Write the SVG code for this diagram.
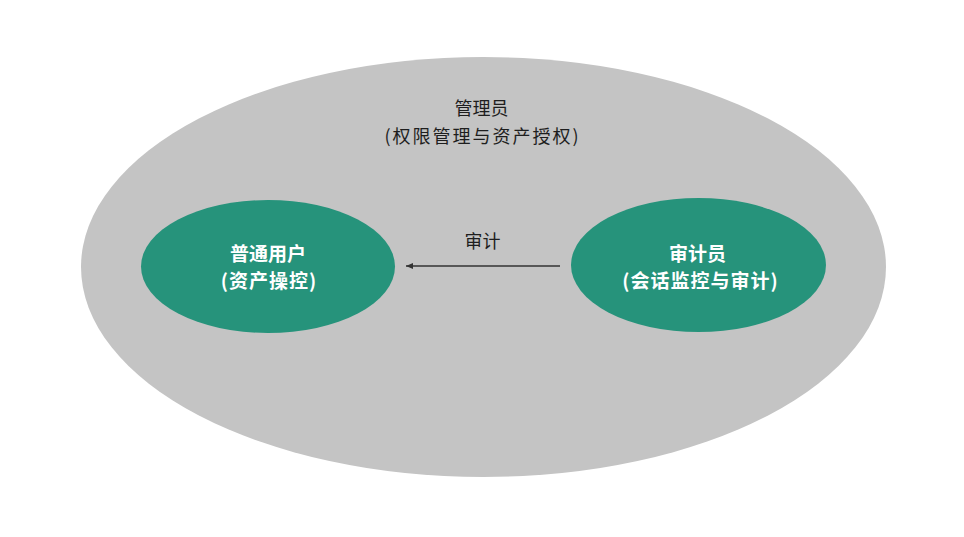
<svg xmlns="http://www.w3.org/2000/svg" width="964" height="537" viewBox="0 0 964 537">
<defs>
<style>
text{font-family:"Noto Sans CJK SC","Noto Sans",sans-serif;font-size:18px;text-anchor:middle}
.dark{fill:#1e1e1e}
.white{fill:#ffffff;font-weight:bold;font-size:19px}
.role{fill:#26937b}
</style>
<marker id="ah" markerWidth="8" markerHeight="8" refX="7" refY="4" orient="auto" markerUnits="userSpaceOnUse">
<path d="M0,1 L7,4 L0,7 Z" fill="#333"/>
</marker>
</defs>
<rect width="964" height="537" fill="#ffffff"/>
<g id="admin">
<ellipse cx="483.5" cy="267" rx="402.5" ry="210" fill="#c4c4c4"/>
<text class="dark" x="481.5" y="115">管理员</text>
<text class="dark" x="482.5" y="143" letter-spacing="2">(权限管理与资产授权)</text>
</g>
<g id="connectors">
<line x1="560" y1="266" x2="406" y2="266" stroke="#333" stroke-width="1.5" marker-end="url(#ah)"/>
<text class="dark" x="482.5" y="248">审计</text>
</g>
<g id="user">
<ellipse cx="268" cy="266.5" rx="127" ry="66.5" class="role"/>
<text class="white" x="268" y="261">普通用户</text>
<text class="white" x="269" y="288" letter-spacing="1">(资产操控)</text>
</g>
<g id="auditor">
<ellipse cx="698.5" cy="265" rx="127.5" ry="67" class="role"/>
<text class="white" x="697.5" y="261">审计员</text>
<text class="white" x="700.5" y="288" letter-spacing="1">(会话监控与审计)</text>
</g>
</svg>
